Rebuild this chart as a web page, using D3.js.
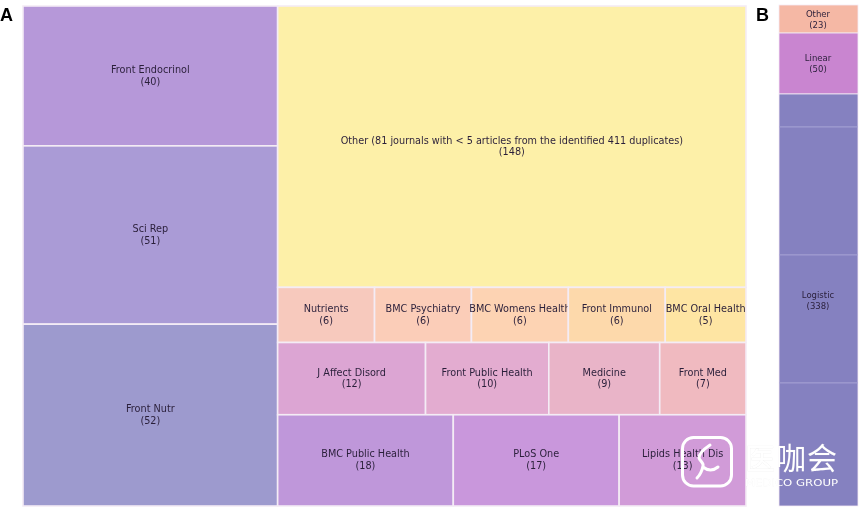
<!DOCTYPE html>
<html><head><meta charset="utf-8">
<script src="https://cdnjs.cloudflare.com/ajax/libs/d3/7.9.0/d3.min.js"></script>
<style>html,body{margin:0;padding:0;background:#fff}svg{display:block;filter:blur(0.35px)}
text{font-family:"DejaVu Sans",sans-serif}</style></head><body>
<svg id="c" width="865" height="510"></svg>
<script>
const leftNames=["Front Endocrinol","Sci Rep","Front Nutr"];
const leftValues=[40,51,52];
const leftColors=["#b698d9","#aa9bd6","#9d9ace"];
const otherName="Other (81 journals with < 5 articles from the identified 411 duplicates)";
const otherValue=148;
const otherColor="#fdf0a8";
const row1Names=["Nutrients","BMC Psychiatry","BMC Womens Health","Front Immunol","BMC Oral Health"];
const row1Values=[6,6,6,6,5];
const row1Colors=["#f7c9bd","#fbcdb8","#fdd3b3","#fdd9ab","#fee5a3"];
const row2Names=["J Affect Disord","Front Public Health","Medicine","Front Med"];
const row2Values=[12,10,9,7];
const row2Colors=["#dca5d3","#e3acd0","#e9b4c8","#f0bac0"];
const row3Names=["BMC Public Health","PLoS One","Lipids Health Dis"];
const row3Values=[18,17,13];
const row3Colors=["#bf97da","#c997dc","#d19bd8"];
const modelNames=["Other","Linear","Logistic"];
const modelValues=[23,50,338];
const modelColors=["#f5b8a5","#c985d0","#8581c0"];
const logisticDividers=[27,132,237];

const svg=d3.select("#c");
const leaves=(n,v,c)=>n.map((name,i)=>({name,value:v[i],color:c[i]}));
const rootData={children:[
  {children:leaves(leftNames,leftValues,leftColors)},
  {children:[
    {name:otherName,value:otherValue,color:otherColor},
    {children:leaves(row1Names,row1Values,row1Colors)},
    {children:leaves(row2Names,row2Values,row2Colors)},
    {children:leaves(row3Names,row3Values,row3Colors)}
  ]}
]};
const tile=(node,x0,y0,x1,y1)=>{
  (node.depth%2===0?d3.treemapDice:d3.treemapSlice)(node,x0,y0,x1,y1);
};
const root=d3.treemap().tile(tile).size([723,500]).round(false)(
  d3.hierarchy(rootData).sum(d=>d.value||0));
const a=svg.append("g").attr("transform","translate(23,6)");
const line="#f4ecf5";
const cellsA=a.selectAll("g").data(root.leaves()).join("g");
cellsA.append("rect").attr("x",d=>d.x0).attr("y",d=>d.y0)
  .attr("width",d=>d.x1-d.x0).attr("height",d=>d.y1-d.y0)
  .attr("fill",d=>d.data.color).attr("stroke",line).attr("stroke-width",1.6);
const label=(sel,name,val,x,y,size,lead)=>{
  const t=sel.append("text").attr("text-anchor","middle").attr("fill","#2a1f3a")
    .attr("font-size",size).attr("x",x).attr("y",y);
  t.append("tspan").attr("x",x).attr("dy","-0.3em").text(name);
  t.append("tspan").attr("x",x).attr("dy",lead).text("("+val+")");
};
cellsA.each(function(d){
  label(d3.select(this),d.data.name,d.data.value,(d.x0+d.x1)/2,(d.y0+d.y1)/2,9.7,11.6);
});

const yB=d3.scaleLinear().domain([0,d3.sum(modelValues)]).range([5,506]);
const stack=d3.cumsum(modelValues);
const b=svg.append("g");
modelNames.forEach((n,i)=>{
  const v0=i?stack[i-1]:0,v1=stack[i];
  b.append("rect").attr("x",779).attr("width",79).attr("y",yB(v0)).attr("height",yB(v1)-yB(v0))
    .attr("fill",modelColors[i]).attr("stroke",line).attr("stroke-width",0.8);
  label(b,n,modelValues[i],818,(yB(v0)+yB(v1))/2+0.5,8.5,11);
});
logisticDividers.forEach(v=>{
  const y=yB(stack[1]+v);
  b.append("line").attr("x1",779).attr("x2",858).attr("y1",y).attr("y2",y)
    .attr("stroke","#a9a6d6").attr("stroke-width",1);
});

svg.append("text").text("A").attr("x",0).attr("y",21).attr("font-size",18).attr("font-weight",700)
  .style("font-family","'Liberation Sans',sans-serif");
svg.append("text").text("B").attr("x",756).attr("y",21).attr("font-size",18).attr("font-weight",700)
  .style("font-family","'Liberation Sans',sans-serif");

const w=svg.append("g").attr("fill","none").attr("stroke","#fff");
w.append("rect").attr("x",682.5).attr("y",437.5).attr("width",49).attr("height",48.5).attr("rx",11).attr("stroke-width",3);
w.append("path").attr("stroke-width",3).attr("stroke-linecap","round").attr("stroke-linejoin","round")
  .attr("d","M710 445C704 449 699 453 699 458C700 461 704 463 703 466C702 471 700 475 697 478M703 467C708 471 713 471 718 467");
svg.append("text").text("医咖会").attr("x",745).attr("y",469).attr("font-size",30).attr("letter-spacing",1)
  .attr("fill","#fff").attr("stroke","rgba(190,190,190,.3)").attr("stroke-width",.4).attr("paint-order","stroke")
  .style("font-family","'Noto Sans CJK SC',sans-serif");
svg.append("text").text("MEDICO GROUP").attr("x",745).attr("y",486).attr("font-size",9).attr("fill","#fff")
  .attr("stroke","rgba(190,190,190,.2)").attr("stroke-width",.3).attr("paint-order","stroke")
  .attr("textLength",93).attr("lengthAdjust","spacingAndGlyphs");
</script></body></html>
